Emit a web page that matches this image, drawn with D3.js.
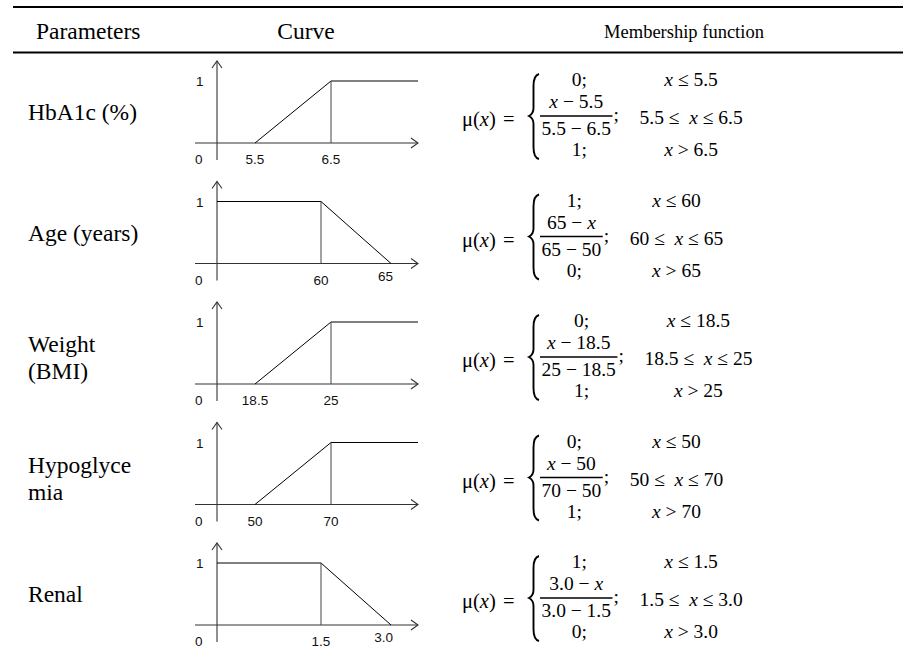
<!DOCTYPE html>
<html>
<head>
<meta charset="utf-8">
<script src="https://cdn.jsdelivr.net/npm/d3@7"></script>
<style>
  body { margin: 0; background: #fff; }
  svg { display: block; }
</style>
</head>
<body>
<svg id="chart"></svg>
<script>
var width = 903, height = 657;

// table content
var headers = ["Parameters", "Curve", "Membership function"];
var paramLabels = [["HbA1c (%)"], ["Age (years)"], ["Weight", "(BMI)"], ["Hypoglyce", "mia"], ["Renal"]];
var shapes = ["rise", "fall", "rise", "rise", "fall"];
var lowPoints = [5.5, 60, 18.5, 50, 1.5];
var highPoints = [6.5, 65, 25, 70, 3.0];
var tickLabels = [["5.5", "6.5"], ["60", "65"], ["18.5", "25"], ["50", "70"], ["1.5", "3.0"]];
var topValues = ["0;", "1;", "0;", "0;", "1;"];
var bottomValues = ["1;", "0;", "1;", "1;", "0;"];
var numerators = ["x − 5.5", "65 − x", "x − 18.5", "x − 50", "3.0 − x"];
var denominators = ["5.5 − 6.5", "65 − 50", "25 − 18.5", "70 − 50", "3.0 − 1.5"];
var conditions = [
  ["x ≤ 5.5", "5.5 ≤  x ≤ 6.5", "x > 6.5"],
  ["x ≤ 60", "60 ≤  x ≤ 65", "x > 65"],
  ["x ≤ 18.5", "18.5 ≤  x ≤ 25", "x > 25"],
  ["x ≤ 50", "50 ≤  x ≤ 70", "x > 70"],
  ["x ≤ 1.5", "1.5 ≤  x ≤ 3.0", "x > 3.0"]
];

var serif = "'Liberation Serif', 'Times New Roman', serif";
var sans = "'Liberation Sans', Arial, sans-serif";

var svg = d3.select("#chart")
    .attr("width", width)
    .attr("height", height);

// rules
svg.append("line").attr("x1", 13).attr("x2", width).attr("y1", 7).attr("y2", 7)
    .attr("stroke", "#000").attr("stroke-width", 2);
svg.append("line").attr("x1", 13).attr("x2", width).attr("y1", 52.5).attr("y2", 52.5)
    .attr("stroke", "#000").attr("stroke-width", 1.8);

// header
svg.append("text").attr("x", 36).attr("y", 39)
    .style("font-family", serif).style("font-size", "23.5px").text(headers[0]);
svg.append("text").attr("x", 306).attr("y", 39).attr("text-anchor", "middle")
    .style("font-family", serif).style("font-size", "23.5px").text(headers[1]);
svg.append("text").attr("x", 684).attr("y", 38).attr("text-anchor", "middle")
    .style("font-family", serif).style("font-size", "18.5px").text(headers[2]);

var rowBand = d3.scaleBand()
    .domain(d3.range(paramLabels.length))
    .range([52, 654.5]);

function mathText(sel, str) {
    str.split("x").forEach(function(p, k) {
        if (k > 0) sel.append("tspan").style("font-style", "italic").text("x");
        if (p) sel.append("tspan").text(p);
    });
    return sel;
}

function brace(x, top, mid, bottom) {
    var p = d3.path();
    p.moveTo(x + 10, top);
    p.bezierCurveTo(x + 6, top + 1, x + 4.5, top + 5, x + 4.5, top + 12);
    p.lineTo(x + 4.5, mid - 8);
    p.bezierCurveTo(x + 4.5, mid - 3, x + 2, mid - 1, x, mid);
    p.bezierCurveTo(x + 2, mid + 1, x + 4.5, mid + 3, x + 4.5, mid + 8);
    p.lineTo(x + 4.5, bottom - 12);
    p.bezierCurveTo(x + 4.5, bottom - 5, x + 6, bottom - 1, x + 10, bottom);
    return p.toString();
}

var line = d3.line();

paramLabels.forEach(function(lines, i) {
    var g = svg.append("g").attr("class", "row");
    var axisY = rowBand(i) + 91;

    // parameter label
    var firstBase = lines.length > 1 ? axisY - 32 : axisY - 23;
    lines.forEach(function(t, k) {
        g.append("text").attr("x", 28).attr("y", firstBase + k * 27)
            .style("font-family", serif).style("font-size", "23.5px").text(t);
    });

    // curve
    var axisX = 217;
    var rise = shapes[i] === "rise";
    var x = d3.scaleLinear()
        .domain([0, lowPoints[i], highPoints[i]])
        .range(rise ? [axisX, axisX + 38, axisX + 114] : [axisX, axisX + 104, axisX + 174]);
    var y = d3.scaleLinear().domain([0, 1]).range([axisY, axisY - 62]);
    var endX = axisX + 201;
    var lo = lowPoints[i], hi = highPoints[i];

    var axes = g.append("g").attr("stroke", "#333").attr("stroke-width", 1.1).attr("fill", "none");
    axes.append("path").attr("d", line([[axisX - 22, y(0)], [endX, y(0)]]));
    axes.append("path").attr("d", line([[endX - 7, y(0) - 5], [endX, y(0)], [endX - 7, y(0) + 5]]));
    axes.append("path").attr("d", line([[axisX, y(0) + 17], [axisX, y(1) - 20]]));
    axes.append("path").attr("d", line([[axisX - 5, y(1) - 13], [axisX, y(1) - 20], [axisX + 5, y(1) - 13]]));

    var curve = g.append("g").attr("stroke", "#000").attr("stroke-width", 1).attr("fill", "none");
    if (rise) {
        curve.append("path").attr("d", line([[x(lo), y(0)], [x(hi), y(1)], [endX, y(1)]]));
        curve.append("path").attr("d", line([[x(hi), y(0)], [x(hi), y(1)]])).attr("stroke", "#444");
    } else {
        curve.append("path").attr("d", line([[x(0), y(1)], [x(lo), y(1)], [x(hi), y(0)]]));
        curve.append("path").attr("d", line([[x(lo), y(0)], [x(lo), y(1)]])).attr("stroke", "#444");
    }

    var lab = g.append("g").style("font-family", sans).style("font-size", "13.5px").attr("fill", "#111");
    lab.append("text").attr("x", axisX - 21).attr("y", y(1) + 5).text("1");
    lab.append("text").attr("x", axisX - 22).attr("y", y(0) + 21).text("0");
    lab.append("text").attr("x", x(lo)).attr("y", y(0) + 21).attr("text-anchor", "middle").text(tickLabels[i][0]);
    if (rise) {
        lab.append("text").attr("x", x(hi)).attr("y", y(0) + 21).attr("text-anchor", "middle").text(tickLabels[i][1]);
    } else {
        lab.append("text").attr("x", x(hi) + 2).attr("y", y(0) + 17).attr("text-anchor", "end").text(tickLabels[i][1]);
    }

    // membership function
    var bar = axisY - 27;
    var f = g.append("g").style("font-family", serif).style("font-size", "19.5px").attr("fill", "#000");
    mathText(f.append("text").attr("x", 462).attr("y", bar + 10).style("font-size", "20.5px"), "μ(x)");
    f.append("text").attr("x", 503).attr("y", bar + 10).style("font-size", "20.5px").text("=");
    g.append("path").attr("d", brace(529, bar - 42, bar, bar + 43))
        .attr("fill", "none").attr("stroke", "#000").attr("stroke-width", 1.9);

    var x0 = 540;
    var num = mathText(f.append("text").attr("y", bar - 8).attr("text-anchor", "middle"), numerators[i]);
    var den = mathText(f.append("text").attr("y", bar + 19).attr("text-anchor", "middle"), denominators[i]);
    var w = Math.max(num.node().getComputedTextLength(), den.node().getComputedTextLength()) + 3;
    num.attr("x", x0 + w / 2);
    den.attr("x", x0 + w / 2);
    g.append("line").attr("x1", x0).attr("x2", x0 + w).attr("y1", bar).attr("y2", bar)
        .attr("stroke", "#000").attr("stroke-width", 1.7);
    f.append("text").attr("x", x0 + w + 1).attr("y", bar + 5).text(";");
    f.append("text").attr("x", x0 + w / 2 + 3).attr("y", bar - 30).attr("text-anchor", "middle").text(topValues[i]);
    f.append("text").attr("x", x0 + w / 2 + 3).attr("y", bar + 40).attr("text-anchor", "middle").text(bottomValues[i]);

    var midStart = x0 + w + 27;
    var mid = mathText(f.append("text").attr("x", midStart).attr("y", bar + 8)
        .style("white-space", "pre"), conditions[i][1]);
    var cx = midStart + mid.node().getComputedTextLength() / 2;
    mathText(f.append("text").attr("x", cx).attr("y", bar - 30).attr("text-anchor", "middle"), conditions[i][0]);
    mathText(f.append("text").attr("x", cx).attr("y", bar + 40).attr("text-anchor", "middle"), conditions[i][2]);
});
</script>
</body>
</html>
